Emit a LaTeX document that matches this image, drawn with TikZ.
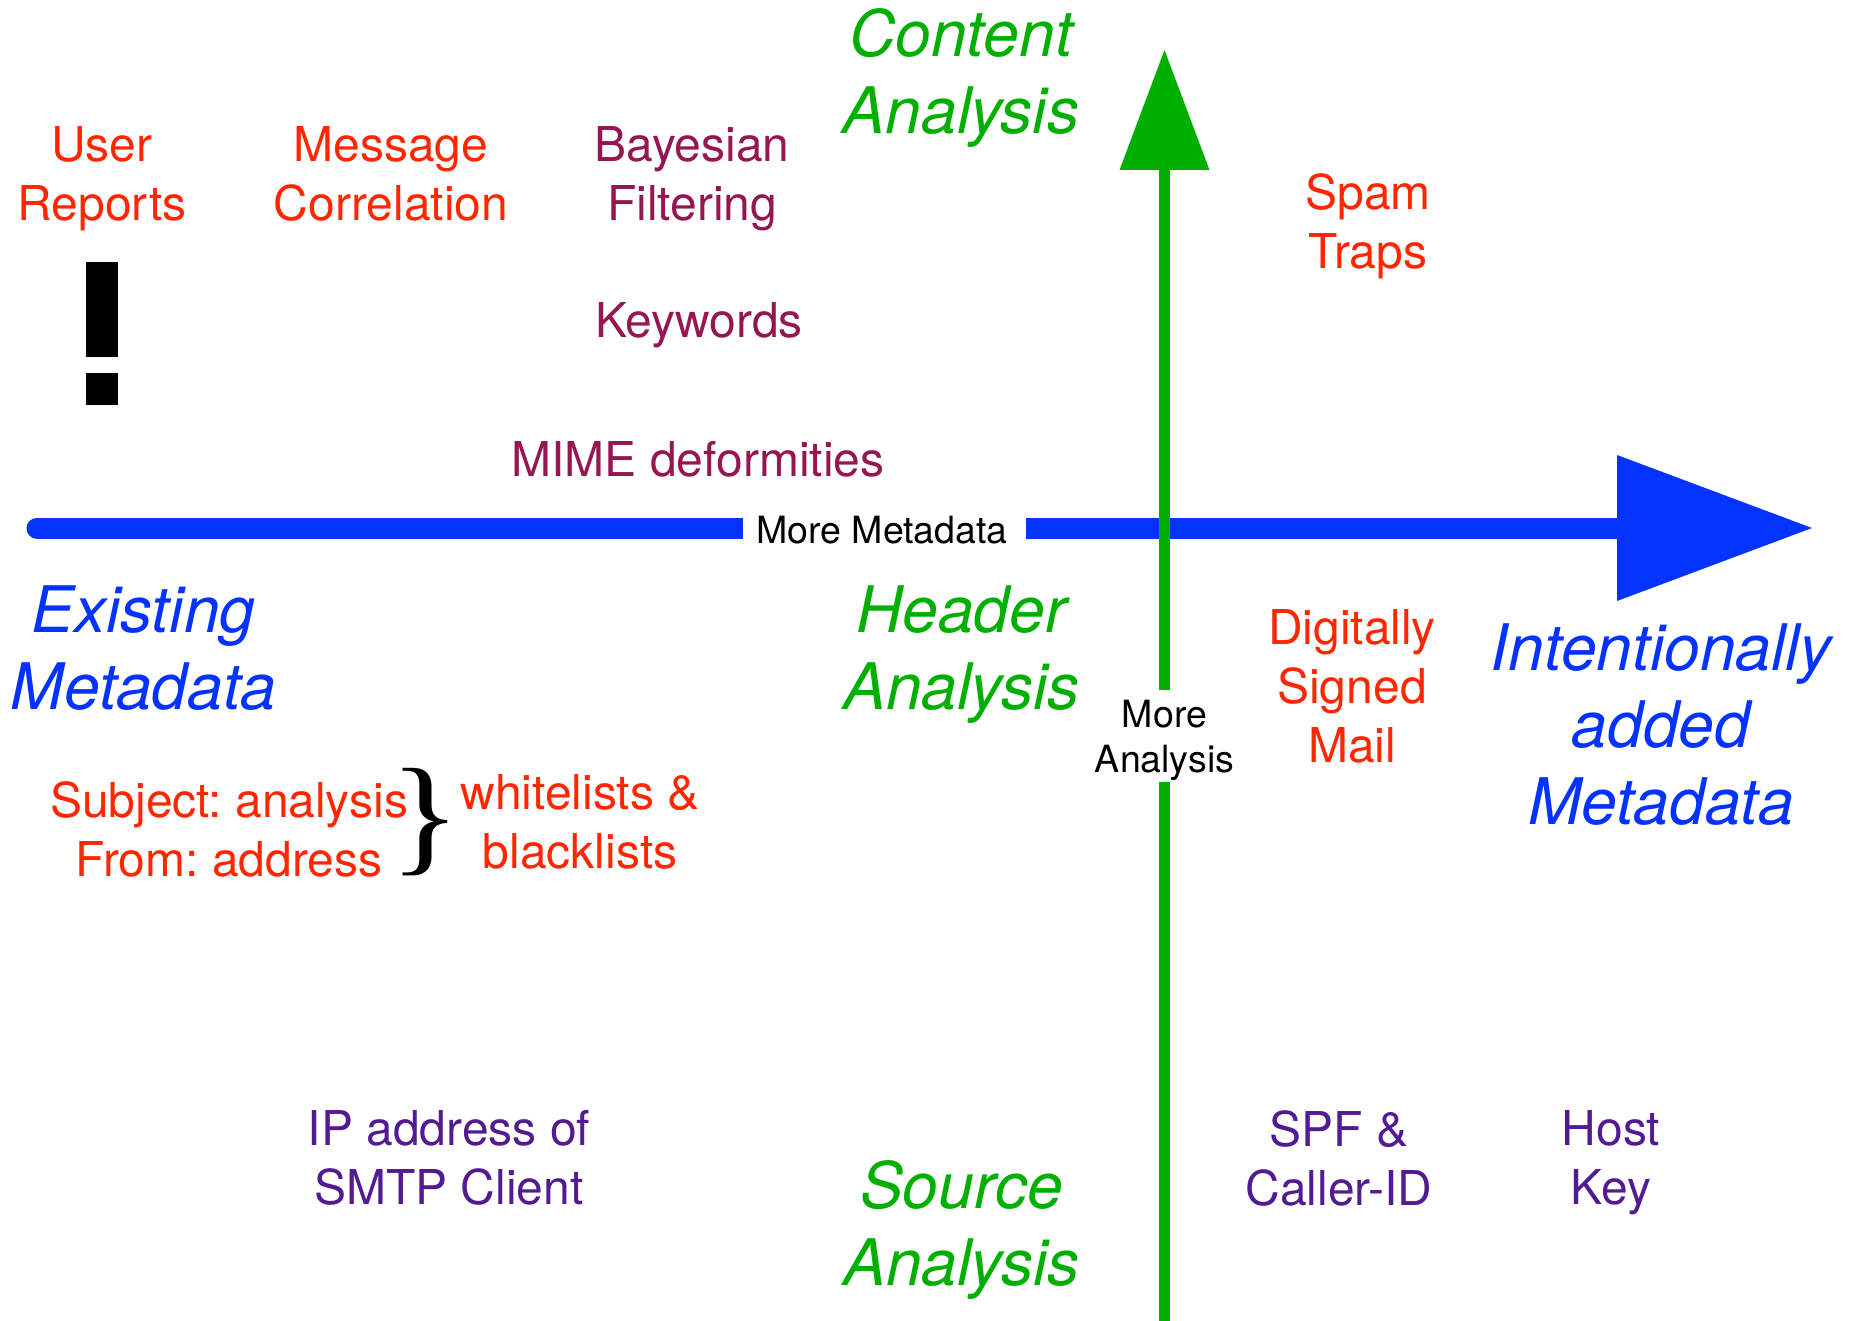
\documentclass[tikz,border=0pt]{standalone}
\usepackage{fontspec}
\setmainfont{TeX Gyre Heros}
\newfontfamily\braceserif{Liberation Serif}
\definecolor{cred}{RGB}{255,38,0}
\definecolor{cblue}{RGB}{4,51,255}
\definecolor{cgreen}{RGB}{0,175,0}
\definecolor{cplum}{RGB}{148,23,81}
\definecolor{cpurp}{RGB}{83,27,147}
\tikzset{x=1pt,y=-1pt,
 lab/.style={align=center,inner sep=0pt,font=\fontsize{48}{59}\selectfont\frenchspacing},
 big/.style={align=center,inner sep=0pt,font=\fontsize{64.2}{77}\selectfont\itshape},
 small/.style={align=center,inner sep=0pt,font=\fontsize{37.5}{45}\selectfont,text=black},
}
\begin{document}
\begin{tikzpicture}
\useasboundingbox (0,0) rectangle (1854,1321);
% axes
\coordinate (hs) at (37,528);
\coordinate (he) at (1812,528);
\coordinate (vs) at (1164.5,1321);
\coordinate (ve) at (1164.5,50);
\node[small] (mm) at (882,530) {More Metadata};
\node[small] (ma) at (1164.5,740.5) {More\\Analysis};
\draw[cblue,line width=21pt,line cap=round] (hs) -- (100,528);
\draw[cblue,line width=21pt] (hs) -- (743,528);
\draw[cblue,line width=21pt] (1026,528) -- (1640,528);
\fill[cblue] (he) -- (1617,455) -- (1617,601) -- cycle;
\draw[cgreen,line width=10.3pt] (vs) -- (1164.5,782);
\draw[cgreen,line width=10.3pt] (1164.5,690) -- (1164.5,160);
\fill[cgreen] (ve) -- (1119.5,170) -- (1209.5,170) -- cycle;
% big labels
\node[big,text=cgreen] (ca) at (961,78.5) {Content\\Analysis};
\node[big,text=cblue] (em) at (143.5,648.5) {Existing\\Metadata};
\node[big,text=cgreen] (ha) at (961.5,655) {Header\\Analysis};
\node[big,text=cblue] (im) at (1661,725) {Intentionally\\added\\Metadata};
\node[big,text=cgreen] (sa) at (961.5,1230) {Source\\Analysis};
% red
\node[lab,text=cred] (ur) at (102,178.5) {User\\Reports};
\node[lab,text=cred] (mc) at (391,174) {Message\\Correlation};
\node[lab,text=cred] (st) at (1368,226.5) {Spam\\Traps};
\node[lab,text=cred] (ds) at (1352,686) {Digitally\\Signed\\Mail};
\node[lab,text=cred] (sf) at (229,829) {Subject: analysis\\From: address};
\node[lab,text=cred] (wb) at (580,822) {whitelists \&\\blacklists};
% plum
\node[lab,text=cplum] (bf) at (692,178.5) {Bayesian\\Filtering};
\node[lab,text=cplum] (kw) at (699,325.5) {Keywords};
\node[lab,text=cplum] (mi) at (698,459) {MIME deformities};
% purple
\node[lab,text=cpurp] (ip) at (449,1158) {IP address of\\SMTP Client};
\node[lab,text=cpurp] (sp) at (1339,1158) {SPF \&\\Caller-ID};
\node[lab,text=cpurp] (hk) at (1611,1162.5) {Host\\Key};
% marks
\node[inner sep=0pt,xscale=1.15,transform shape,font=\fontsize{130}{130}\selectfont\braceserif] (br) at (425,822) {\}};
\fill[black] (85.5,262) rectangle (118,357);
\fill[black] (85.5,373) rectangle (118,405);
\end{tikzpicture}
\end{document}
